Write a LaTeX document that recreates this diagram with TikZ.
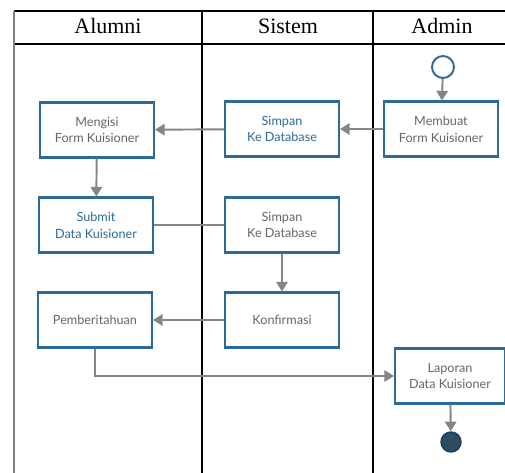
\documentclass[tikz,border=0pt]{standalone}
\usepackage{fontspec}
\setmainfont{Lato}
\newfontfamily\headfont{Liberation Serif}
\usetikzlibrary{arrows.meta}

\definecolor{boxblue}{HTML}{2C6A99}
\definecolor{textgray}{HTML}{666666}
\definecolor{linkgray}{HTML}{858585}
\definecolor{endfill}{HTML}{2F4B5F}

\tikzset{
  act/.style={draw=boxblue, line width=1.15pt, fill=white, text=textgray,
    minimum width=2.28cm, minimum height=1.1cm, align=center,
    font=\fontsize{7.2}{9.6}\selectfont, inner sep=1pt},
  actblue/.style={act, text=boxblue},
  flow/.style={draw=linkgray, line width=1.1pt,
    -{Triangle[width=6.5pt,length=5.5pt]}},
  lane/.style={draw=black, line width=0.8pt},
  head/.style={font=\headfont\fontsize{12.5}{14}\selectfont}
}

\begin{document}
\begin{tikzpicture}[x=0.02cm,y=-0.02cm]
\useasboundingbox (0,0) rectangle (505,473);

% swimlanes
\draw[lane] (14,11) -- (505,11);
\draw[lane] (14,44) -- (505,44);
\draw[lane, draw=gray] (14,11) -- (14,473);
\draw[lane] (202,11) -- (202,473);
\draw[lane] (373,11) -- (373,473);

\node[head] (alumni) at (108,26) {Alumni};
\node[head] (sistem) at (288,26) {Sistem};
\node[head] (admin) at (442,26) {Admin};

% activities
\node[draw=boxblue, line width=1.1pt, fill=white, circle, minimum size=0.44cm, inner sep=0pt] (start) at (443,67) {};
\node[act] (membuat) at (441,129) {Membuat\\Form Kuisioner};
\node[actblue] (simpanA) at (282,129) {Simpan\\Ke Database};
\node[act] (mengisi) at (97,130) {Mengisi\\Form Kuisioner};
\node[actblue] (submit) at (96,225) {Submit\\Data Kuisioner};
\node[act] (simpanB) at (282,225) {Simpan\\Ke Database};
\node[act] (konfirmasi) at (282,320) {Konfirmasi};
\node[act] (pemberitahuan) at (95,320) {Pemberitahuan};
\node[act, minimum width=2.2cm] (laporan) at (450,376) {Laporan\\Data Kuisioner};
\node[draw=boxblue!60!black, line width=0.8pt, fill=endfill, circle, minimum size=0.4cm, inner sep=0pt] (finish) at (451,442) {};

% flows
\draw[flow] (start) -- (membuat);
\draw[flow] (membuat) -- (simpanA);
\draw[flow] (simpanA) -- (mengisi);
\draw[flow] (mengisi) -- (submit);
\draw[draw=linkgray, line width=1.1pt] (submit) -- (simpanB);
\draw[flow] (simpanB) -- (konfirmasi);
\draw[flow] (konfirmasi) -- (pemberitahuan);
\draw[flow] (pemberitahuan) |- (laporan);
\draw[flow] (laporan) -- (finish);
\end{tikzpicture}
\end{document}
